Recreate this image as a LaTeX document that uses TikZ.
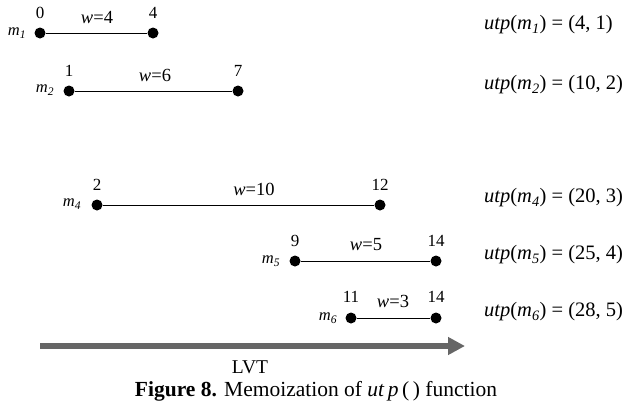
\documentclass[tikz,border=0pt]{standalone}
\usepackage{fontspec}
\setmainfont{Liberation Serif}
\usetikzlibrary{arrows.meta}
\begin{document}
\begin{tikzpicture}[x=1pt,y=-1pt,
  dot/.style={circle,fill=black,inner sep=0pt,minimum size=11pt},
  num/.style={font=\fontsize{17}{19}\selectfont,inner sep=0pt},
  wlab/.style={font=\fontsize{18.5}{20}\selectfont,inner sep=0pt},
  mlab/.style={font=\fontsize{16.5}{18}\selectfont\itshape,inner sep=0pt},
  utp/.style={font=\fontsize{20.5}{22}\selectfont,anchor=west,inner sep=0pt},
  seg/.style={line width=1pt}]
\useasboundingbox (0,0) rectangle (626,405);
% m1
\node[dot] (a1) at (40,33) {};
\node[dot] (b1) at (153,33) {};
\draw[seg] (a1) -- (b1);
\node[num] (s1) at (40,13) {0};
\node[num] (e1) at (153,13) {4};
\node[wlab] (w1) at (97,17) {\textit{w}=4};
\node[mlab] (l1) at (17,33) {m\textsubscript{1}};
\node[utp] (u1) at (484,25) {\textit{utp}(\textit{m\textsubscript{1}}) = (4, 1)};
% m2
\node[dot] (a2) at (69,91) {};
\node[dot] (b2) at (238,91) {};
\draw[seg] (a2) -- (b2);
\node[num] (s2) at (69,71) {1};
\node[num] (e2) at (238,71) {7};
\node[wlab] (w2) at (155,75) {\textit{w}=6};
\node[mlab] (l2) at (45,90) {m\textsubscript{2}};
\node[utp] (u2) at (484,85) {\textit{utp}(\textit{m\textsubscript{2}}) = (10, 2)};
% m4
\node[dot] (a4) at (97,205) {};
\node[dot] (b4) at (380,205) {};
\draw[seg] (a4) -- (b4);
\node[num] (s4) at (97,185) {2};
\node[num] (e4) at (380,185) {12};
\node[wlab] (w4) at (254,189) {\textit{w}=10};
\node[mlab] (l4) at (72,204) {m\textsubscript{4}};
\node[utp] (u4) at (484,198) {\textit{utp}(\textit{m\textsubscript{4}}) = (20, 3)};
% m5
\node[dot] (a5) at (295,261) {};
\node[dot] (b5) at (436,261) {};
\draw[seg] (a5) -- (b5);
\node[num] (s5) at (295,241) {9};
\node[num] (e5) at (436,241) {14};
\node[wlab] (w5) at (366,245) {\textit{w}=5};
\node[mlab] (l5) at (271,261) {m\textsubscript{5}};
\node[utp] (u5) at (484,255) {\textit{utp}(\textit{m\textsubscript{5}}) = (25, 4)};
% m6
\node[dot] (a6) at (351,318) {};
\node[dot] (b6) at (436,318) {};
\draw[seg] (a6) -- (b6);
\node[num] (s6) at (351,297) {11};
\node[num] (e6) at (436,297) {14};
\node[wlab] (w6) at (393,301) {\textit{w}=3};
\node[mlab] (l6) at (328,318) {m\textsubscript{6}};
\node[utp] (u6) at (484,312) {\textit{utp}(\textit{m\textsubscript{6}}) = (28, 5)};
% LVT arrow
\coordinate (ls) at (40,346);
\coordinate (le) at (465,346);
\draw[line width=6pt,draw=black!60,-{Triangle[length=17pt,width=17pt]}] (ls) -- (le);
\node[num,font=\fontsize{19.5}{21}\selectfont] (lvt) at (250,367) {LVT};
\node[num,font=\fontsize{21.5}{23}\selectfont] (cap) at (316,391) {\textbf{Figure 8.} Memoization of \textit{ut\,p}\,(\,) function};
\end{tikzpicture}
\end{document}
